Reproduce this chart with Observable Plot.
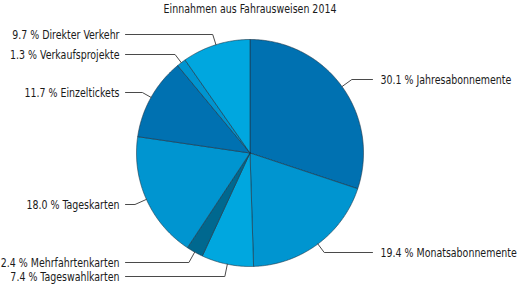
<!DOCTYPE html>
<html><head><meta charset="utf-8">
<script src="https://cdn.jsdelivr.net/npm/d3@7"></script>
<script src="https://cdn.jsdelivr.net/npm/@observablehq/plot@0.6"></script>
<style>body{margin:0;background:#fff}</style>
</head><body><div id="chart"></div>
<script>
// ---- data ----
const title = "Einnahmen aus Fahrausweisen 2014";
const categories = ["Jahresabonnemente", "Monatsabonnemente", "Tageswahlkarten", "Mehrfahrtenkarten", "Tageskarten", "Einzeltickets", "Verkaufsprojekte", "Direkter Verkehr"];
const shares = [30.1, 19.4, 7.4, 2.4, 18.0, 11.7, 1.3, 9.7];

// ---- style / layout ----
const sliceColors = ["#0071b1", "#0095d0", "#00a7df", "#00688f", "#0095d0", "#0071b1", "#0095d0", "#00a7df"];
const W = 518, H = 289, CX = 249.5, CY = 152.5, R = 113.5;
const labelPxY = [79, 252, 276, 262, 204, 92, 54, 34];
const titlePxY = 8;
const leftLineX = 125, rightLineX = 372;
const font = "DejaVu Sans Condensed, Liberation Sans, sans-serif";
const fontSize = 12.5;
const squeeze = 0.84; // horizontal condensing of text glyphs

// unit conversions (radius = 1, y up)
const ux = px => (px - CX) / R;
const uy = py => (CY - py) / R;

const rows = categories.map((c, i) => ({label: c, share: shares[i], color: sliceColors[i], ly: labelPxY[i]}));
const arcs = d3.pie().sort(null).value(d => d.share).startAngle(0).endAngle(2 * Math.PI)(rows);

const slicePts = [];
const leaderPts = [];
const labelRows = [];
const step = Math.PI / 360;
arcs.forEach(a => {
  const key = a.data.label;
  slicePts.push({key, color: a.data.color, x: 0, y: 0});
  const n = Math.max(2, Math.ceil((a.endAngle - a.startAngle) / step) + 1);
  for (let k = 0; k < n; k++) {
    const t = a.startAngle + (a.endAngle - a.startAngle) * k / (n - 1);
    slicePts.push({key, color: a.data.color, x: Math.sin(t), y: Math.cos(t)});
  }
  slicePts.push({key, color: a.data.color, x: 0, y: 0});

  const m = (a.startAngle + a.endAngle) / 2;
  const sx = Math.sin(m), sy = Math.cos(m);
  const ey = uy(a.data.ly);
  const tt = (ey - sy) / sy;
  const ex = sx + sx * tt;
  const right = sx > 0;
  const endX = ux(right ? rightLineX : leftLineX);
  leaderPts.push({key, x: sx, y: sy}, {key, x: ex, y: ey}, {key, x: endX, y: ey});
  labelRows.push({
    text: `${a.data.share.toFixed(1)} % ${key}`,
    x: ux(right ? rightLineX + 8 : leftLineX - 6),
    y: ey,
    anchor: right ? "start" : "end"
  });
});

const textOpts = {fontSize, fontFamily: font, fill: "#1a1a1a"};
const chart = Plot.plot({
  width: W, height: H,
  margin: 0,
  x: {domain: [ux(0), ux(W)], axis: null},
  y: {domain: [uy(H), uy(0)], axis: null},
  color: {type: "identity"},
  marks: [
    Plot.line(slicePts, {x: "x", y: "y", z: "key", fill: "color", stroke: "#1f3444", strokeWidth: 0.6, strokeLinejoin: "round"}),
    Plot.line(leaderPts, {x: "x", y: "y", z: "key", stroke: "#4a4a4a", strokeWidth: 1}),
    Plot.text(labelRows.filter(d => d.anchor === "start"), {x: "x", y: "y", text: "text", textAnchor: "start", ...textOpts}),
    Plot.text(labelRows.filter(d => d.anchor === "end"), {x: "x", y: "y", text: "text", textAnchor: "end", ...textOpts}),
    Plot.text([title], {x: () => 0, y: () => uy(titlePxY), text: d => d, textAnchor: "middle", ...textOpts})
  ]
});
document.getElementById("chart").appendChild(chart);
// condense glyphs horizontally (emulates the narrow typeface of the original)
chart.querySelectorAll("text").forEach(t => {
  const len = t.getComputedTextLength();
  if (len > 0) {
    t.setAttribute("textLength", (len * squeeze).toFixed(2));
    t.setAttribute("lengthAdjust", "spacingAndGlyphs");
  }
});
</script>
</body></html>
